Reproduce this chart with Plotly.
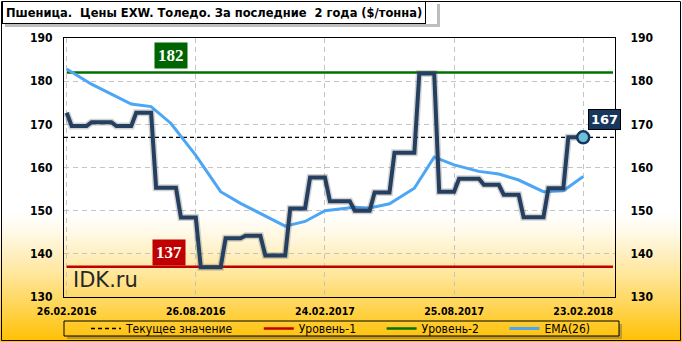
import plotly.graph_objects as go
import pandas as pd

# ---------------- data ----------------
start_date = "2016-02-26"
n_weeks = 105
dates = pd.date_range(start_date, periods=n_weeks, freq="7D")

price = [
    172.7,
    169.6, 169.6, 169.6, 169.6,
    170.5, 170.5, 170.5, 170.5, 170.5,
    169.6, 169.6, 169.6, 169.6,
    172.7, 172.7, 172.7, 172.7,
    155.3, 155.3, 155.3, 155.3, 155.3,
    148.4, 148.4, 148.4, 148.4,
    136.9, 136.9, 136.9, 136.9, 136.9,
    143.6, 143.6, 143.6, 143.6,
    144.2, 144.2, 144.2, 144.2,
    139.6, 139.6, 139.6, 139.6, 139.6,
    150.5, 150.5, 150.5, 150.5,
    157.7, 157.7, 157.7, 157.7,
    152.2, 152.2, 152.2, 152.2, 152.2,
    150.0, 150.0, 150.0, 150.0,
    154.2, 154.2, 154.2, 154.2,
    163.4, 163.4, 163.4, 163.4, 163.4,
    181.8, 181.8, 181.8, 181.8,
    154.4, 154.4, 154.4, 154.4,
    157.4, 157.4, 157.4, 157.4, 157.4,
    156.0, 156.0, 156.0, 156.0,
    153.7, 153.7, 153.7, 153.7,
    148.5, 148.5, 148.5, 148.5, 148.5,
    155.2, 155.2, 155.2, 155.2,
    167.0, 167.0, 167.0, 167.0,
]

ema_weeks = [0, 2, 5, 9, 13, 17, 21, 26, 29, 31, 35, 40, 44, 48, 52, 58, 61, 65,
             70, 74, 78, 83, 87, 91, 96, 100, 104]
ema_values = [182.8, 181.4, 179.3, 177.0, 174.7, 174.1, 170.2, 162.8, 157.8, 154.4,
              151.7, 148.8, 146.4, 147.5, 150.0, 150.8, 150.6, 151.6, 155.2, 162.4,
              160.6, 159.1, 158.5, 157.1, 154.4, 154.6, 157.9]

level1 = 137
level2 = 182
current_value = 167

tick_weeks = [0, 26, 52, 78, 104]
names = ["Текущее значение", "Уровень-1", "Уровень-2", "EMA(26)"]
title_text = "Пшеница.  Цены EXW. Толедо. За последние  2 года ($/тонна)"
brand_text = "IDK.ru"

# ---------------- layout constants ----------------
W, H = 682, 342
ML, MR, MT, MB = 64, 67, 38, 45
PW, PH = W - ML - MR, H - MT - MB
RANGE_WEEKS = (-0.54, 110.4)
LEVEL_END_WEEK = 110
FONT = "DejaVu Sans Condensed, DejaVu Sans, Liberation Sans"
LEGEND_PAD = "\u00a0" * 6

def week_date(w):
    return dates[0] + pd.Timedelta(days=7 * w)

def px(xp):
    return (xp - ML) / PW

def py(yp):
    return (MT + PH - yp) / PH

x_range = [week_date(RANGE_WEEKS[0]), week_date(RANGE_WEEKS[1])]
ema_dates = [dates[i] for i in ema_weeks]
level_x = [dates[0], week_date(LEVEL_END_WEEK)]

PRICE_COLOR = "#243F60"
EMA_COLOR = "#4DA6F5"
RED = "#C00000"
GREEN = "#007000"
SHADOW = "rgba(90,90,90,0.4)"

fig = go.Figure()

fig.add_trace(go.Scatter(
    x=x_range, y=[current_value, current_value], mode="lines", name=names[0] + LEGEND_PAD,
    line=dict(color="black", width=1.3, dash="4px,3px"), hoverinfo="skip"))
fig.add_trace(go.Scatter(
    x=level_x, y=[level1, level1], mode="lines", name=names[1] + LEGEND_PAD,
    line=dict(color=RED, width=2.5), hoverinfo="skip"))
fig.add_trace(go.Scatter(
    x=level_x, y=[level2, level2], mode="lines", name=names[2] + LEGEND_PAD,
    line=dict(color=GREEN, width=2.5), hoverinfo="skip"))
fig.add_trace(go.Scatter(
    x=ema_dates, y=ema_values, mode="lines", name=names[3],
    line=dict(color=EMA_COLOR, width=3), hoverinfo="skip"))
fig.add_trace(go.Scatter(
    x=dates, y=price, mode="lines", showlegend=False,
    line=dict(color="rgba(80,80,80,0.25)", width=7), hoverinfo="skip"))
fig.add_trace(go.Scatter(
    x=dates, y=price, mode="lines", showlegend=False,
    line=dict(color=PRICE_COLOR, width=4), hoverinfo="skip"))
fig.add_trace(go.Scatter(
    x=[dates[-1]], y=[price[-1]], mode="markers", showlegend=False,
    marker=dict(size=12, color="#6CC0D8", line=dict(color="#17375E", width=2.5)),
    hoverinfo="skip"))
fig.add_trace(go.Scatter(
    x=[dates[0]], y=[price[0]], yaxis="y2", mode="markers", showlegend=False,
    marker=dict(opacity=0), hoverinfo="skip"))

# ---------------- background gradient ----------------
shapes = []
y0g, y1g = 212, H
step = 2
yy = y0g
while yy < y1g:
    t = (yy + step / 2 - y0g) / (y1g - y0g)
    t = max(0.0, min(1.0, t)) ** 1.25
    g = round(255 - (255 - 192) * t)
    b = round(255 * (1 - t))
    shapes.append(dict(type="rect", xref="paper", yref="paper",
                       x0=px(0), x1=px(W), y0=py(yy + step + 0.5), y1=py(yy),
                       fillcolor=f"rgb(255,{g},{b})", line=dict(width=0), layer="below"))
    yy += step


def rect(x0, y0, x1, y1, layer="below", fill=None, line=None):
    d = dict(type="rect", xref="paper", yref="paper",
             x0=px(x0), x1=px(x1), y0=py(y1), y1=py(y0), layer=layer)
    d["fillcolor"] = fill if fill else "rgba(0,0,0,0)"
    d["line"] = line if line else dict(width=0)
    return d


def shadow(x0, y0, x1, y1, off=3, layer="below"):
    return [rect(x1, y0 + off, x1 + off, y1 + off, layer, SHADOW),
            rect(x0 + off, y1, x1, y1 + off, layer, SHADOW)]


shapes.append(rect(1.5, 1.5, W - 1.5, H - 1.5, line=dict(color="black", width=1)))
shapes += shadow(64, 321, 619, 336)
shapes.append(rect(64, 321, 619, 336, line=dict(color="black", width=1)))
shapes += shadow(2, 1, 437, 24, layer="above")

annotations = [
    dict(text=f"<b>{title_text}</b>", xref="paper", yref="paper",
         x=px(2), y=py(1), xanchor="left", yanchor="top", showarrow=False,
         font=dict(family=FONT, size=12.75, color="black"),
         bgcolor="white", bordercolor="black", borderwidth=1, borderpad=3),
    dict(text=f"<b>{level2}</b>", x=week_date(21), y=level2, xref="x", yref="y",
         yshift=17, showarrow=False,
         font=dict(family="Liberation Serif", size=17, color="white"),
         bgcolor="#006400", borderpad=3),
    dict(text=f"<b>{level1}</b>", x=week_date(20.7), y=level1, xref="x", yref="y",
         yshift=14, showarrow=False,
         font=dict(family="Liberation Serif", size=17, color="white"),
         bgcolor=RED, borderpad=3),
    dict(text=f"<b>{current_value}</b>", x=dates[-1], y=current_value, xref="x", yref="y",
         xshift=21.5, yshift=18, showarrow=False,
         font=dict(family="DejaVu Sans", size=13, color="white"),
         bgcolor="#17375E", bordercolor="black", borderwidth=1, borderpad=2),
    dict(text=brand_text, xref="paper", yref="paper", x=px(105.5), y=py(280),
         xanchor="center", yanchor="middle",
         showarrow=False, font=dict(family="DejaVu Sans", size=21, color="#262626")),
]

axis_common = dict(showline=True, linecolor="black", linewidth=1, mirror=True,
                   gridcolor="#C4C4C4", griddash="5px,4px", gridwidth=1,
                   zeroline=False)

fig.update_layout(
    width=W, height=H,
    margin=dict(l=ML, r=MR, t=MT, b=MB, pad=0, autoexpand=False),
    paper_bgcolor="rgba(0,0,0,0)", plot_bgcolor="rgba(0,0,0,0)",
    showlegend=True,
    legend=dict(orientation="h", x=px(86), y=py(328.5), xanchor="left", yanchor="middle",
                bgcolor="rgba(0,0,0,0)", borderwidth=0,
                font=dict(family=FONT, size=12, color="black"),
                tracegroupgap=0, itemwidth=30),
    xaxis=dict(type="date", range=x_range, tickvals=[dates[i] for i in tick_weeks],
               tickformat="%d.%m.%Y", ticks="outside", ticklen=4,
               tickcolor="rgba(0,0,0,0)",
               tickfont=dict(family=FONT, size=10.5, color="black", weight="bold"),
               **axis_common),
    yaxis=dict(range=[130, 190], dtick=10, ticks="outside", ticklen=8,
               tickcolor="rgba(0,0,0,0)",
               tickfont=dict(family=FONT, size=12, color="black", weight="bold"),
               **axis_common),
    yaxis2=dict(range=[130, 190], dtick=10, overlaying="y", side="right",
                ticks="outside", ticklen=12, tickcolor="rgba(0,0,0,0)",
                showgrid=False, zeroline=False, showline=False,
                tickfont=dict(family=FONT, size=12, color="black", weight="bold")),
    shapes=shapes,
    annotations=annotations,
)

fig.write_html("out.html")
